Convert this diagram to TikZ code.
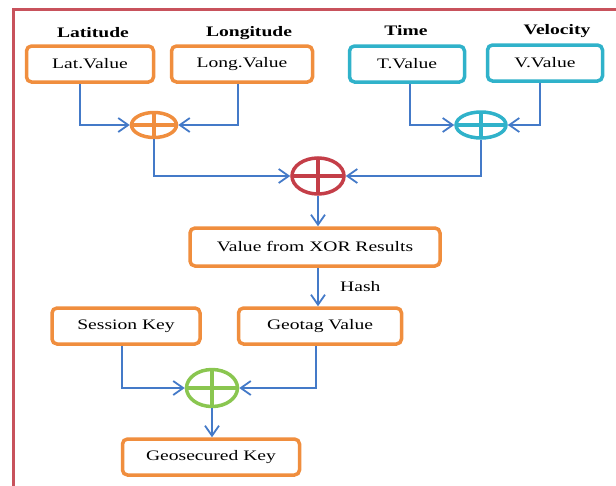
\documentclass[tikz,border=0pt]{standalone}
\usepackage{fontspec}
\setmainfont{Liberation Serif}[FakeStretch=1.35]
\usetikzlibrary{shapes.geometric,arrows.meta}

\definecolor{boxorange}{RGB}{240,142,62}
\definecolor{boxcyan}{RGB}{48,178,202}
\definecolor{xorred}{RGB}{196,62,72}
\definecolor{xorgreen}{RGB}{138,198,80}
\definecolor{flowblue}{RGB}{68,122,200}
\definecolor{framered}{RGB}{200,82,92}

\begin{document}
\begin{tikzpicture}[
        x=1pt, y=-1pt,
        >={Straight Barb[length=10pt,width=14pt]},
        font=\fontsize{14.5}{17}\selectfont,
        valbox/.style={draw=#1, line width=3.5pt, rounded corners=5pt, fill=white, minimum height=36pt, inner sep=2pt},
        xorgate/.style={ellipse, draw=#1, line width=3.5pt, inner sep=0pt,
            path picture={\draw[#1, line width=3.5pt]
                (path picture bounding box.north) -- (path picture bounding box.south)
                (path picture bounding box.west) -- (path picture bounding box.east);}},
        conn/.style={draw=flowblue, line width=1.8pt},
        head/.style={font=\bfseries\fontsize{14.5}{17}\selectfont}
    ]
    \clip (0,0) rectangle (616,485);

    % --- frame ---
    \draw[framered, line width=3.5pt] (13.5,9.5) rectangle (650,520);

    % --- inputs ---
    \node[head] (latlbl) at (93,33) {Latitude};
    \node[head] (longlbl) at (249,33) {Longitude};
    \node[head] (timelbl) at (406,31) {Time};
    \node[head] (vellbl) at (557,31) {Velocity};

    \node[valbox=boxorange, minimum width=127pt] (lat) at (90,64) {Lat.Value};
    \node[valbox=boxorange, minimum width=141pt] (long) at (242,64) {Long.Value};
    \node[valbox=boxcyan, minimum width=115pt] (tval) at (407,64) {T.Value};
    \node[valbox=boxcyan, minimum width=115pt] (vval) at (545,63) {V.Value};

    % --- XOR gates ---
    \node[xorgate=boxorange, minimum width=45pt, minimum height=25pt] (xorpos) at (154,125) {};
    \node[xorgate=boxcyan, minimum width=50pt, minimum height=26pt] (xormot) at (481,125) {};
    \node[xorgate=xorred, minimum width=52pt, minimum height=36pt] (xorall) at (318,176) {};

    \draw[conn, ->] ([xshift=-10pt]lat.south) |- (xorpos.west);
    \draw[conn, ->] ([xshift=-4pt]long.south) |- (xorpos.east);
    \draw[conn, ->] ([xshift=3pt]tval.south) |- (xormot.west);
    \draw[conn, ->] ([xshift=-5pt]vval.south) |- (xormot.east);
    \draw[conn, ->] (xorpos.south) |- (xorall.west);
    \draw[conn, ->] (xormot.south) |- (xorall.east);

    % --- hash stage ---
    \node[valbox=boxorange, minimum width=250pt, minimum height=38pt] (xorres) at (315,247) {Value from XOR Results};
    \draw[conn, ->] (xorall.south) -- (xorall.south |- xorres.north);

    \node[valbox=boxorange, minimum width=148pt] (session) at (126,326) {Session Key};
    \node[valbox=boxorange, minimum width=163pt] (geotag) at (320,326) {Geotag Value};
    \draw[conn, ->] (xorall.south |- xorres.south) -- (xorall.south |- geotag.north)
        node[midway, right=18pt] (hashlbl) {Hash};

    % --- final key ---
    \node[xorgate=xorgreen, minimum width=51pt, minimum height=37pt] (xorkey) at (212,388) {};
    \node[valbox=boxorange, minimum width=177pt] (geokey) at (211,457) {Geosecured Key};

    \draw[conn, ->] ([xshift=-4pt]session.south) |- (xorkey.west);
    \draw[conn, ->] ([xshift=-4pt]geotag.south) |- (xorkey.east);
    \draw[conn, ->] (xorkey.south) -- (xorkey.south |- geokey.north);

\end{tikzpicture}
\end{document}
